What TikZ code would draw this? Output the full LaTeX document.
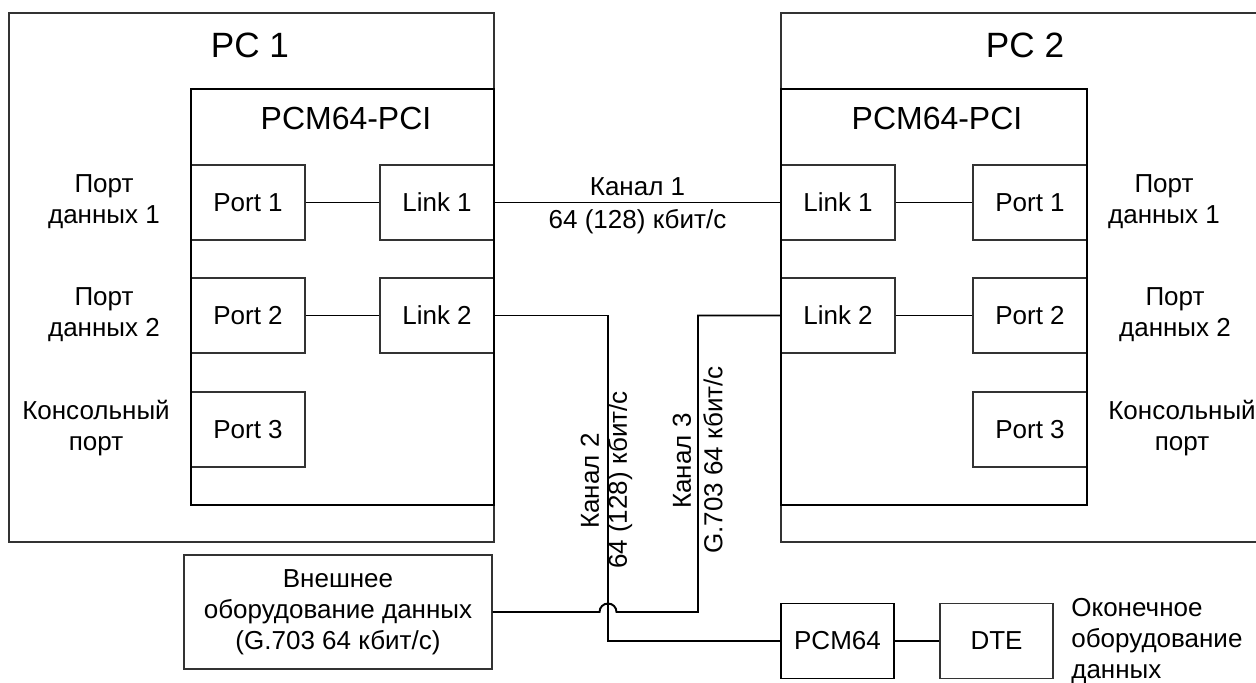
\documentclass[tikz,border=0pt]{standalone}
\usepackage{fontspec}
\setmainfont{Liberation Sans}
\begin{document}
\begin{tikzpicture}[font=\fontsize{14.8}{17.6}\selectfont,
  pcbox/.style={draw=black!80, line width=0.6pt},
  cardbox/.style={draw, line width=1.1pt},
  unit/.style={draw=black!80, line width=0.6pt, minimum width=2.28cm, minimum height=1.5cm},
  lbl/.style={align=center, inner sep=0pt},
  thinwire/.style={line width=0.7pt},
  wire/.style={line width=1.1pt}]
\useasboundingbox (0,0) rectangle (25.12,-13.64);

% PC 1
\node[pcbox, minimum width=9.70cm, minimum height=10.58cm] (pc1) at (5.03,-5.55) {};
\node[font=\fontsize{20}{24}\selectfont] (pc1t) at (5.00,-0.90) {PC 1};
\node[unit] (port1l) at (4.96,-4.05) {Port 1};
\node[unit] (link1l) at (8.74,-4.05) {Link 1};
\node[unit] (port2l) at (4.96,-6.31) {Port 2};
\node[unit] (link2l) at (8.74,-6.31) {Link 2};
\node[unit] (port3l) at (4.96,-8.59) {Port 3};
\node[cardbox, minimum width=6.06cm, minimum height=8.32cm] (card1) at (6.85,-5.94) {};
\node[font=\fontsize{18.2}{21}\selectfont] (card1t) at (6.92,-2.36) {PCM64-PCI};
\node[lbl] (d1l) at (2.08,-4.04) {Порт\\данных 1};
\node[lbl] (d2l) at (2.08,-6.30) {Порт\\данных 2};
\node[lbl] (cl) at (1.92,-8.56) {Консольный\\порт};

% PC 2
\node[pcbox, minimum width=9.62cm, minimum height=10.58cm] (pc2) at (20.43,-5.55) {};
\node[font=\fontsize{20}{24}\selectfont] (pc2t) at (20.50,-0.90) {PC 2};
\node[unit] (link1r) at (16.76,-4.05) {Link 1};
\node[unit] (port1r) at (20.60,-4.05) {Port 1};
\node[unit] (link2r) at (16.76,-6.31) {Link 2};
\node[unit] (port2r) at (20.60,-6.31) {Port 2};
\node[unit] (port3r) at (20.60,-8.59) {Port 3};
\node[cardbox, minimum width=6.12cm, minimum height=8.32cm] (card2) at (18.68,-5.94) {};
\node[font=\fontsize{18.2}{21}\selectfont] (card2t) at (18.74,-2.36) {PCM64-PCI};
\node[lbl] (d1r) at (23.28,-4.04) {Порт\\данных 1};
\node[lbl] (d2r) at (23.50,-6.30) {Порт\\данных 2};
\node[lbl] (cr) at (23.64,-8.56) {Консольный\\порт};

% bottom row
\node[unit, minimum width=6.16cm, minimum height=2.28cm, align=center] (ext) at (6.76,-12.24) {Внешнее\\оборудование данных\\(G.703 64 кбит/с)};
\node[cardbox, minimum width=2.26cm, minimum height=1.5cm] (pcm64) at (16.75,-12.82) {PCM64};
\node[unit, minimum width=2.26cm] (dte) at (19.93,-12.82) {DTE};
\node[lbl, align=left, anchor=west] (dtel) at (21.42,-12.82) {Оконечное\\оборудование\\данных};

\coordinate (bend2) at (12.16,-6.31);
\coordinate (hop) at (12.16,-12.24);
\coordinate (bend3) at (13.96,-12.24);

% connections inside the cards
\draw[thinwire] (port1l) -- (link1l);
\draw[wire] (port2l) -- (link2l);
\draw[thinwire] (link1r) -- (port1r);
\draw[wire] (link2r) -- (port2r);
\draw[thinwire] (pcm64) -- (dte);

% channels
\draw[thinwire] (link1l.east) -- node[above] (k1) {Канал 1} node[below] (k1s) {64 (128) кбит/с} (link1r.west);
\draw[wire] (link2l.east) -- (bend2) |- (pcm64.west);
\draw[wire] (ext.east) -- ([xshift=-0.17cm]hop) arc[start angle=180, end angle=0, radius=0.17cm] -- (bend3) |- (link2r.west);

\node[rotate=90] (k2) at (11.80,-9.62) {Канал 2};
\node[rotate=90] (k2s) at (12.40,-9.60) {64 (128) кбит/с};
\node[rotate=90] (k3) at (13.64,-9.22) {Канал 3};
\node[rotate=90] (k3s) at (14.26,-9.20) {G.703 64 кбит/с};
\end{tikzpicture}
\end{document}
